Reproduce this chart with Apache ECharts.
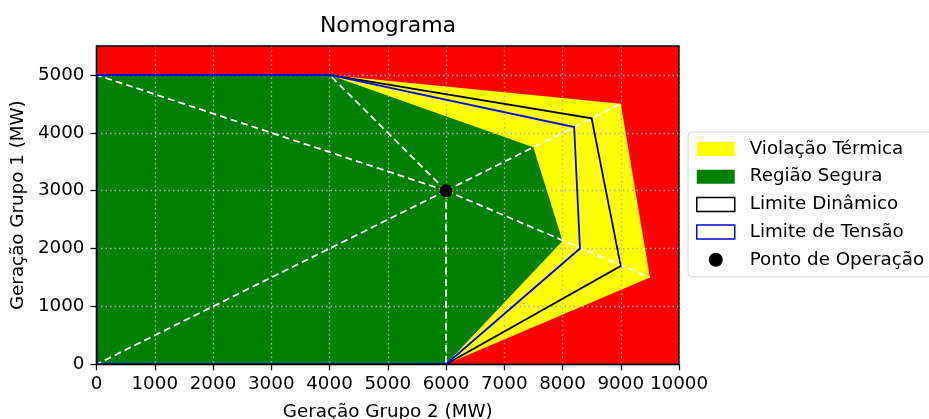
<!DOCTYPE html>
<html>
<head>
<meta charset="utf-8">
<script src="https://cdn.jsdelivr.net/npm/echarts@6/dist/echarts.min.js"></script>
<style>
  html, body { margin: 0; padding: 0; background: #ffffff; }
  #chart { width: 929px; height: 419px; }
</style>
</head>
<body>
<div id="chart"></div>
<script>
// Nomogram regions (MW): x = Geração Grupo 2, y = Geração Grupo 1
const thermalRegion = [[0, 0], [0, 5000], [4000, 5000], [9000, 4500], [9500, 1500], [6000, 0]];
const safeRegion    = [[0, 0], [0, 5000], [4000, 5000], [7500, 3750], [8000, 2130], [6000, 0]];
const dynamicLimit  = [[0, 0], [0, 5000], [4000, 5000], [8500, 4250], [9000, 1700], [6000, 0]];
const voltageLimit  = [[0, 0], [0, 5000], [4000, 5000], [8200, 4100], [8300, 2000], [6000, 0]];
const operatingPoint = [6000, 3000];

const xTicks = [0, 1000, 2000, 3000, 4000, 5000, 6000, 7000, 8000, 9000, 10000];
const yTicks = [0, 1000, 2000, 3000, 4000, 5000];
const xRange = [0, 10000];
const yRange = [0, 5500];

const FONT = 'DejaVu Sans';
const chart = echarts.init(document.getElementById('chart'), null, { renderer: 'canvas' });

// Filled or outlined polygon drawn once from all of the series' vertices
function polygonSeries(name, pts, fill, stroke, z) {
  return {
    type: 'custom',
    name: name,
    coordinateSystem: 'cartesian2d',
    data: pts,
    encode: { x: 0, y: 1 },
    clip: true,
    silent: true,
    z: z,
    renderItem: function (params, api) {
      if (params.dataIndex !== 0) return null;
      const points = pts.map(function (p) { return api.coord(p); });
      return {
        type: 'polygon',
        shape: { points: points },
        style: stroke
          ? { fill: 'none', stroke: stroke, lineWidth: 1.8, lineJoin: 'miter' }
          : { fill: fill, stroke: null }
      };
    }
  };
}

// Dashed rays from the operating point to each vertex of the thermal region
const raySeries = {
  type: 'custom',
  name: 'raios',
  coordinateSystem: 'cartesian2d',
  data: thermalRegion,
  encode: { x: 0, y: 1 },
  silent: true,
  z: 11,
  renderItem: function (params, api) {
    const a = api.coord(operatingPoint);
    const b = api.coord([api.value(0), api.value(1)]);
    return {
      type: 'line',
      shape: { x1: a[0], y1: a[1], x2: b[0], y2: b[1] },
      style: { stroke: '#ffffff', lineWidth: 1.8, lineDash: [7, 4] }
    };
  }
};

// Black frame around the plotting area, on top of every mark
const frameSeries = {
  type: 'custom',
  name: 'moldura',
  coordinateSystem: 'cartesian2d',
  data: [[xRange[0], yRange[0]]],
  encode: { x: 0, y: 1 },
  silent: true,
  clip: false,
  z: 13,
  renderItem: function (params, api) {
    const p0 = api.coord([xRange[0], yRange[1]]);
    const p1 = api.coord([xRange[1], yRange[0]]);
    return {
      type: 'rect',
      shape: { x: p0[0], y: p0[1], width: p1[0] - p0[0], height: p1[1] - p0[1] },
      style: { fill: 'none', stroke: '#000000', lineWidth: 1.3 }
    };
  }
};

const plainNumber = function (v) { return String(v); };
const gridLine = { show: true, lineStyle: { color: '#b0b0b0', width: 1.3, type: [1.5, 3] } };
const spine = { show: true, onZero: false, lineStyle: { color: '#000000', width: 1.3 } };
const tickFont = { fontFamily: FONT, fontSize: 18.3, color: '#000000' };

chart.setOption({
  animation: false,
  backgroundColor: '#ffffff',
  textStyle: { fontFamily: FONT },
  graphic: [{
    type: 'text',
    x: 388,
    y: 15,
    style: {
      text: 'Nomograma',
      fontFamily: FONT,
      fontSize: 22,
      fill: '#000000',
      align: 'center',
      verticalAlign: 'top'
    }
  }],
  grid: {
    left: 96.5, right: 250, top: 46, bottom: 54.7,
    containLabel: false,
    outerBoundsMode: 'none',
    show: true, backgroundColor: '#ff0000', borderWidth: 0
  },
  legend: {
    orient: 'vertical',
    left: 688,
    top: 132,
    padding: [7, 8, 7, 8],
    itemWidth: 38,
    itemHeight: 14,
    itemGap: 7.7,
    backgroundColor: '#ffffff',
    borderColor: '#d3d3d3',
    borderWidth: 1,
    borderRadius: 4,
    selectedMode: false,
    textStyle: { fontFamily: FONT, fontSize: 18.3, color: '#000000', lineHeight: 20, padding: [0, 0, 0, 10] },
    data: [
      { name: 'Violação Térmica', icon: 'rect', itemStyle: { color: '#ffff00', borderWidth: 0 } },
      { name: 'Região Segura', icon: 'rect', itemStyle: { color: '#008000', borderWidth: 0 } },
      { name: 'Limite Dinâmico', icon: 'rect', itemStyle: { color: '#ffffff', borderColor: '#000000', borderWidth: 1.5 } },
      { name: 'Limite de Tensão', icon: 'rect', itemStyle: { color: '#ffffff', borderColor: '#0000ff', borderWidth: 1.5 } },
      { name: 'Ponto de Operação', icon: 'circle', itemStyle: { color: '#000000', borderWidth: 0, opacity: 1 } }
    ]
  },
  xAxis: {
    type: 'value',
    min: xRange[0], max: xRange[1], interval: 1000,
    z: 10,
    name: 'Geração Grupo 2 (MW)',
    nameLocation: 'middle',
    nameGap: 39,
    nameTextStyle: tickFont,
    axisLine: spine,
    axisTick: { show: true, length: 6, customValues: xTicks, lineStyle: { color: '#000000', width: 1.3 } },
    axisLabel: Object.assign({ margin: 11, customValues: xTicks, formatter: plainNumber }, tickFont),
    splitLine: gridLine
  },
  yAxis: {
    type: 'value',
    min: yRange[0], max: yRange[1], interval: 1000,
    z: 10,
    name: 'Geração Grupo 1 (MW)',
    nameLocation: 'middle',
    nameGap: 64,
    nameTextStyle: tickFont,
    axisLine: spine,
    axisTick: { show: true, length: 6, customValues: yTicks, lineStyle: { color: '#000000', width: 1.3 } },
    axisLabel: Object.assign({ margin: 12, customValues: yTicks, formatter: plainNumber }, tickFont),
    splitLine: gridLine
  },
  series: [
    polygonSeries('Violação Térmica', thermalRegion, '#ffff00', null, 2),
    polygonSeries('Região Segura', safeRegion, '#008000', null, 2),
    raySeries,
    polygonSeries('Limite Dinâmico', dynamicLimit, null, '#000000', 11),
    polygonSeries('Limite de Tensão', voltageLimit, null, '#0000ff', 11),
    {
      type: 'scatter',
      name: 'Ponto de Operação',
      data: [operatingPoint],
      symbol: 'circle',
      symbolSize: 13,
      itemStyle: { color: '#000000', opacity: 1 },
      silent: true,
      z: 11
    },
    frameSeries
  ]
});
</script>
</body>
</html>
